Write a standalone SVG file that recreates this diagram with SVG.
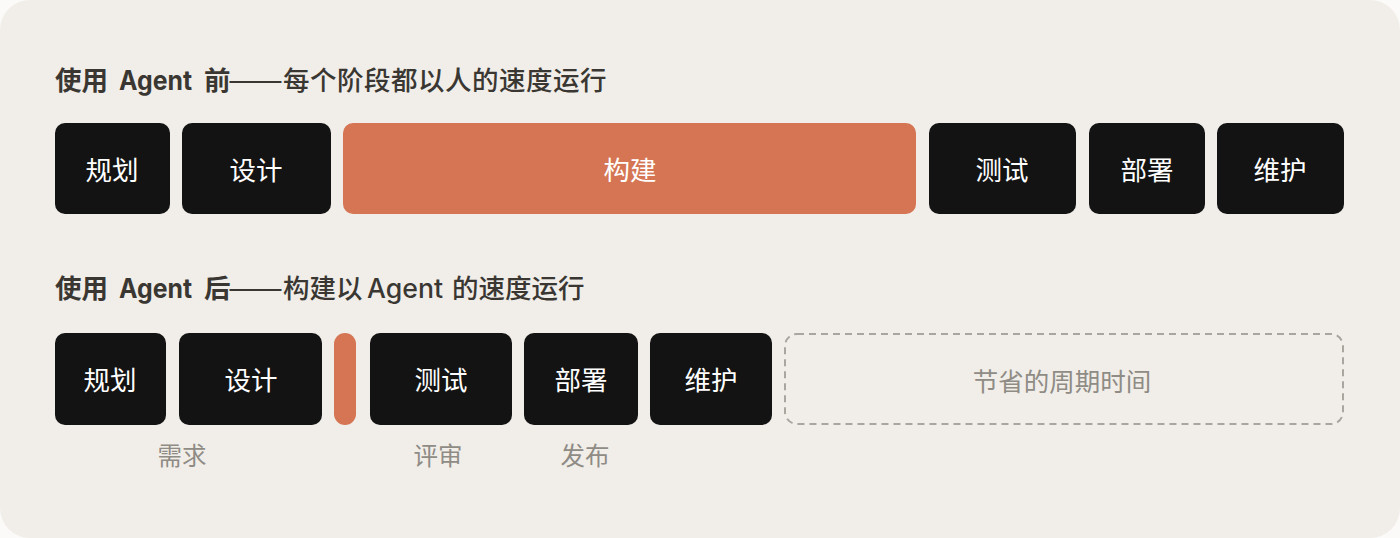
<svg xmlns="http://www.w3.org/2000/svg" width="1400" height="538" viewBox="0 0 1400 538">
<style>
text{font-family:"Noto Sans CJK SC","Noto Sans",sans-serif}
.title{font-size:26.5px;fill:#3a3733;font-weight:500}
.title .b{font-weight:700}
.title .lat{font-family:Inter,"Noto Sans",sans-serif}
.blk{fill:#131313}
.org{fill:#d57553}
.lbl{font-size:26.5px;fill:#ffffff;text-anchor:middle;dominant-baseline:central}
.sub{font-size:24.5px;fill:#8f8b85;text-anchor:middle;dominant-baseline:central}
.dash{fill:none;stroke:#a9a59f;stroke-width:2;stroke-dasharray:7 5}
</style>
<rect x="0" y="0" width="1400" height="538" fill="#fbfaf8"/>
<rect x="0" y="0" width="1400" height="538" rx="30" fill="#f1eee9"/>
<text class="title" y="90"><tspan class="b" x="55">使用</tspan><tspan class="b lat" x="119" textLength="73" lengthAdjust="spacingAndGlyphs">Agent</tspan><tspan class="b" x="204">前</tspan><tspan x="228" textLength="55" lengthAdjust="spacingAndGlyphs">——</tspan><tspan x="283" style="letter-spacing:0.5px">每个阶段都以人的速度运行</tspan></text>
<text class="title" y="298"><tspan class="b" x="55">使用</tspan><tspan class="b lat" x="119" textLength="73" lengthAdjust="spacingAndGlyphs">Agent</tspan><tspan class="b" x="204">后</tspan><tspan x="228" textLength="55" lengthAdjust="spacingAndGlyphs">——</tspan><tspan x="283">构建以</tspan><tspan class="lat" x="367" textLength="76" lengthAdjust="spacingAndGlyphs">Agent</tspan><tspan x="452">的速度运行</tspan></text>
<g id="before-plan"><rect class="blk" x="55" y="123" width="115" height="91" rx="10"/><text class="lbl" x="112" y="168">规划</text></g>
<g id="before-design"><rect class="blk" x="182" y="123" width="149" height="91" rx="10"/><text class="lbl" x="256" y="168">设计</text></g>
<g id="before-build"><rect class="org" x="343" y="123" width="573" height="91" rx="10"/><text class="lbl" x="630" y="168">构建</text></g>
<g id="before-test"><rect class="blk" x="929" y="123" width="147" height="91" rx="10"/><text class="lbl" x="1002" y="168">测试</text></g>
<g id="before-deploy"><rect class="blk" x="1089" y="123" width="116" height="91" rx="10"/><text class="lbl" x="1147" y="168">部署</text></g>
<g id="before-maintain"><rect class="blk" x="1217" y="123" width="127" height="91" rx="10"/><text class="lbl" x="1280" y="168">维护</text></g>
<g id="after-plan"><rect class="blk" x="55" y="333" width="111" height="92" rx="10"/><text class="lbl" x="110" y="378">规划</text></g>
<g id="after-design"><rect class="blk" x="179" y="333" width="143" height="92" rx="10"/><text class="lbl" x="251" y="378">设计</text></g>
<g id="after-build"><rect class="org" x="334" y="333" width="22" height="92" rx="11"/></g>
<g id="after-test"><rect class="blk" x="370" y="333" width="142" height="92" rx="10"/><text class="lbl" x="441" y="378">测试</text></g>
<g id="after-deploy"><rect class="blk" x="524" y="333" width="114" height="92" rx="10"/><text class="lbl" x="581" y="378">部署</text></g>
<g id="after-maintain"><rect class="blk" x="650" y="333" width="122" height="92" rx="10"/><text class="lbl" x="711" y="378">维护</text></g>
<g id="saved"><rect class="dash" x="785" y="334" width="558" height="90" rx="12"/><text class="sub" x="1062" y="379" style="font-size:25.5px">节省的周期时间</text></g>
<g id="connectors"></g>
<g id="notes">
<text class="sub" x="182" y="454">需求</text>
<text class="sub" x="438" y="454">评审</text>
<text class="sub" x="585" y="454">发布</text>
</g>
</svg>
